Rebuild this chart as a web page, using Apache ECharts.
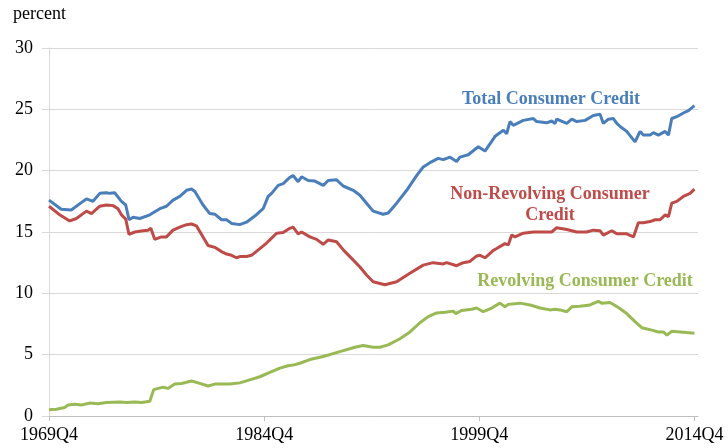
<!DOCTYPE html>
<html>
<head>
<meta charset="utf-8">
<script src="https://cdn.jsdelivr.net/npm/echarts@6/dist/echarts.min.js"></script>
<style>
  html, body { margin: 0; padding: 0; background: #fff; }
  #main { width: 728px; height: 448px; }
</style>
</head>
<body>
<div id="main"></div>
<script>
(function() {
    // [year (fraction, Q4 = .75), percent]
    const totalCredit = [
        [1969.75, 17.6], [1970.6, 16.85], [1971.3, 16.8], [1972.36, 17.7], [1972.82, 17.5],
        [1973.29, 18.15], [1973.75, 18.2], [1973.99, 18.15], [1974.33, 18.2], [1974.8, 17.5],
        [1975.1, 17.2], [1975.33, 16.0], [1975.61, 16.2], [1976.08, 16.1], [1976.78, 16.4],
        [1977.48, 16.9], [1977.94, 17.1], [1978.4, 17.6], [1978.87, 17.9], [1979.34, 18.4],
        [1979.69, 18.5], [1979.92, 18.3], [1980.49, 17.2], [1980.96, 16.5], [1981.31, 16.45],
        [1981.78, 16.0], [1982.13, 16.0], [1982.48, 15.7], [1983.05, 15.6], [1983.52, 15.8],
        [1984.1, 16.3], [1984.68, 16.9], [1985.03, 17.9], [1985.27, 18.15], [1985.73, 18.8],
        [1986.08, 18.95], [1986.54, 19.45], [1986.77, 19.6], [1987.12, 19.1], [1987.36, 19.5],
        [1987.82, 19.2], [1988.29, 19.15], [1988.87, 18.8], [1989.22, 19.2], [1989.8, 19.25],
        [1990.26, 18.75], [1990.96, 18.4], [1991.43, 18.0], [1991.89, 17.35], [1992.35, 16.7],
        [1993.05, 16.45], [1993.4, 16.55], [1993.99, 17.35], [1994.69, 18.4], [1995.38, 19.6],
        [1995.84, 20.3], [1996.31, 20.65], [1996.89, 21.0], [1997.24, 20.9], [1997.71, 21.1],
        [1998.17, 20.75], [1998.4, 21.1], [1998.98, 21.3], [1999.68, 21.95], [2000.15, 21.6],
        [2000.85, 22.8], [2001.43, 23.3], [2001.66, 23.0], [2001.89, 24.0], [2002.12, 23.7],
        [2002.82, 24.1], [2003.52, 24.25], [2003.75, 24.0], [2004.45, 23.9], [2004.8, 24.05],
        [2005.03, 23.85], [2005.15, 24.2], [2005.85, 23.85], [2006.2, 24.2], [2006.55, 24.0],
        [2007.13, 24.1], [2007.7, 24.5], [2008.17, 24.6], [2008.4, 23.85], [2008.75, 24.2],
        [2009.1, 24.25], [2009.34, 23.85], [2009.57, 23.6], [2010.03, 23.2], [2010.61, 22.35],
        [2010.96, 23.2], [2011.19, 22.9], [2011.66, 22.9], [2011.89, 23.1], [2012.24, 22.9],
        [2012.71, 23.2], [2012.94, 22.9], [2013.17, 24.25], [2013.52, 24.4], [2013.98, 24.7],
        [2014.33, 24.9], [2014.75, 25.3]
    ];
    const nonRevolving = [
        [1969.75, 17.1], [1970.5, 16.4], [1971.19, 15.9], [1971.66, 16.1], [1972.36, 16.7],
        [1972.71, 16.5], [1973.29, 17.1], [1973.75, 17.2], [1973.87, 17.05], [1974.22, 17.15],
        [1974.56, 16.9], [1974.8, 16.4], [1975.1, 16.05], [1975.33, 14.8], [1975.73, 15.0],
        [1976.31, 15.1], [1976.66, 15.15], [1976.85, 15.3], [1977.12, 14.4], [1977.59, 14.6],
        [1977.94, 14.6], [1978.4, 15.15], [1978.87, 15.4], [1979.34, 15.6], [1979.69, 15.65],
        [1980.03, 15.5], [1980.49, 14.6], [1980.84, 13.9], [1981.31, 13.75], [1981.78, 13.4],
        [1982.13, 13.2], [1982.48, 13.1], [1982.82, 12.9], [1983.05, 13.0], [1983.52, 13.0],
        [1983.87, 13.1], [1984.45, 13.65], [1984.92, 14.1], [1985.27, 14.5], [1985.62, 14.9],
        [1986.08, 14.95], [1986.54, 15.3], [1986.77, 15.4], [1987.12, 14.85], [1987.36, 15.0],
        [1987.94, 14.6], [1988.41, 14.4], [1988.87, 14.0], [1989.22, 14.35], [1989.8, 14.2],
        [1990.3, 13.5], [1990.85, 12.85], [1991.43, 12.15], [1991.89, 11.5], [1992.35, 10.95],
        [1993.17, 10.7], [1993.99, 10.95], [1994.8, 11.55], [1995.84, 12.3], [1996.54, 12.5],
        [1997.24, 12.4], [1997.48, 12.5], [1998.17, 12.25], [1998.63, 12.5], [1999.1, 12.6],
        [1999.57, 13.05], [1999.8, 13.1], [2000.15, 12.9], [2000.73, 13.5], [2000.96, 13.65],
        [2001.54, 14.05], [2001.77, 13.95], [2002.01, 14.75], [2002.24, 14.6], [2002.82, 14.9],
        [2003.52, 15.0], [2004.1, 15.0], [2004.8, 15.0], [2005.15, 15.35], [2005.85, 15.2],
        [2006.55, 15.0], [2007.24, 15.0], [2007.7, 15.15], [2008.17, 15.1], [2008.4, 14.75],
        [2008.99, 15.1], [2009.34, 14.85], [2010.03, 14.85], [2010.5, 14.6], [2010.61, 14.65],
        [2010.84, 15.75], [2011.19, 15.75], [2011.66, 15.85], [2012.01, 16.0], [2012.36, 16.0],
        [2012.71, 16.4], [2012.94, 16.25], [2013.17, 17.35], [2013.52, 17.5], [2013.98, 17.9],
        [2014.45, 18.15], [2014.75, 18.5]
    ];
    const revolving = [
        [1969.75, 0.5], [1970.27, 0.55], [1970.85, 0.7], [1971.08, 0.9], [1971.54, 0.95],
        [1972.01, 0.9], [1972.59, 1.05], [1973.17, 1.0], [1973.75, 1.1], [1974.68, 1.15],
        [1975.15, 1.1], [1975.73, 1.15], [1976.2, 1.1], [1976.78, 1.2], [1977.05, 2.15],
        [1977.7, 2.35], [1978.05, 2.25], [1978.52, 2.6], [1978.99, 2.65], [1979.69, 2.85],
        [1980.15, 2.7], [1980.84, 2.45], [1981.31, 2.6], [1982.36, 2.6], [1983.05, 2.7],
        [1983.75, 2.95], [1984.45, 3.2], [1985.15, 3.55], [1985.85, 3.9], [1986.42, 4.1],
        [1986.77, 4.15], [1987.24, 4.3], [1987.94, 4.6], [1988.87, 4.85], [1990.03, 5.25],
        [1991.08, 5.6], [1991.65, 5.75], [1992.35, 5.6], [1992.82, 5.6], [1993.4, 5.8],
        [1994.22, 6.3], [1994.92, 6.85], [1995.61, 7.6], [1996.19, 8.1], [1996.78, 8.4],
        [1997.36, 8.45], [1997.94, 8.55], [1998.1, 8.35], [1998.52, 8.6], [1999.22, 8.7],
        [1999.57, 8.8], [2000.03, 8.5], [2000.62, 8.8], [2001.19, 9.2], [2001.54, 8.9],
        [2001.77, 9.1], [2002.59, 9.2], [2003.3, 9.05], [2003.99, 8.8], [2004.68, 8.65],
        [2005.03, 8.7], [2005.38, 8.65], [2005.85, 8.5], [2006.2, 8.9], [2006.75, 8.95],
        [2007.47, 9.05], [2008.05, 9.35], [2008.29, 9.2], [2008.87, 9.25], [2009.45, 8.85],
        [2010.03, 8.35], [2010.61, 7.7], [2011.08, 7.2], [2011.78, 7.0], [2012.24, 6.85],
        [2012.59, 6.85], [2012.83, 6.6], [2013.17, 6.9], [2013.75, 6.85], [2014.22, 6.8],
        [2014.75, 6.75]
    ];
    const xTickLabels = ['1969Q4', '1984Q4', '1999Q4', '2014Q4'];
    const seriesNames = ['Total Consumer Credit', 'Non-Revolving Consumer Credit', 'Revolving Consumer Credit'];

    const startYear = 1969.75;
    const toQuarter = function(arr) {
        return arr.map(function(d) { return [(d[0] - startYear) * 4, d[1]]; });
    };

    const font = 'Liberation Serif, Times New Roman, serif';
    const colors = ['#4A7EBB', '#BE4B48', '#98B954'];

    var myChart = echarts.init(document.getElementById('main'));
    var option = {
        animation: false,
        color: colors,
        grid: { left: 49, right: 30, top: 48, bottom: 32 },
        xAxis: {
            type: 'value',
            min: 0,
            max: 181,
            splitLine: { show: false },
            axisLine: { lineStyle: { color: '#bfbfbf', width: 1 } },
            axisTick: {
                show: true, length: 5, inside: false,
                customValues: [0, 60, 120, 180],
                lineStyle: { color: '#bfbfbf' }
            },
            axisLabel: {
                customValues: [0, 60, 120, 180],
                margin: 10,
                color: '#000',
                fontFamily: font,
                fontSize: 18,
                formatter: function(v) { return xTickLabels[Math.round(v / 60)] || ''; }
            }
        },
        yAxis: {
            type: 'value',
            min: 0,
            max: 30,
            interval: 5,
            axisLine: { show: true, lineStyle: { color: '#d9d9d9' } },
            axisTick: { show: true, length: 7, lineStyle: { color: '#d9d9d9' } },
            splitLine: { lineStyle: { color: '#d9d9d9' } },
            axisLabel: { margin: 16, color: '#000', fontFamily: font, fontSize: 18 }
        },
        graphic: [
            { type: 'text', left: 13, top: 5, style: { text: 'percent', font: '18px ' + font, fill: '#000' } },
            { type: 'text', x: 551, y: 99, style: { text: seriesNames[0], font: 'bold 18px ' + font, fill: colors[0], align: 'center', verticalAlign: 'middle' } },
            { type: 'text', x: 550, y: 205, style: { text: 'Non-Revolving Consumer\nCredit', font: 'bold 18px ' + font, fill: colors[1], align: 'center', verticalAlign: 'middle', lineHeight: 21 } },
            { type: 'text', x: 585, y: 281, style: { text: seriesNames[2], font: 'bold 18px ' + font, fill: colors[2], align: 'center', verticalAlign: 'middle' } }
        ],
        series: [
            { name: seriesNames[0], type: 'line', showSymbol: false, data: toQuarter(totalCredit), lineStyle: { width: 3 } },
            { name: seriesNames[1], type: 'line', showSymbol: false, data: toQuarter(nonRevolving), lineStyle: { width: 3 } },
            { name: seriesNames[2], type: 'line', showSymbol: false, data: toQuarter(revolving), lineStyle: { width: 3 } }
        ]
    };
    myChart.setOption(option);
})();
</script>
</body>
</html>
